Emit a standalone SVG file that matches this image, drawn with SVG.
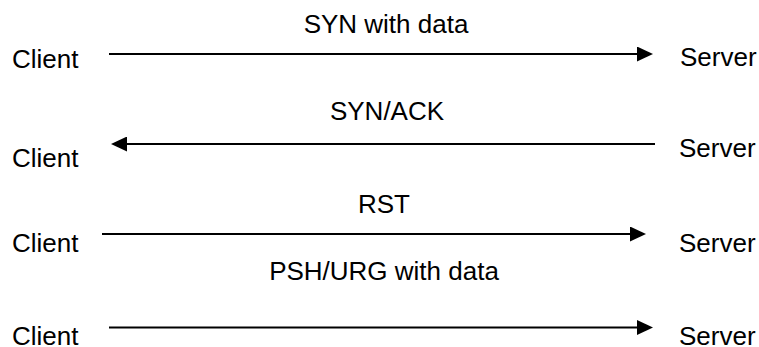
<svg xmlns="http://www.w3.org/2000/svg" width="759" height="347" viewBox="0 0 759 347">
<style>
text{font-family:"Liberation Sans",Arial,sans-serif;font-size:26px;fill:#000}
.lbl{text-anchor:middle}
.msg{stroke:#000;stroke-width:2;fill:none}
</style>
<defs>
<marker id="ah" viewBox="0 0 16 15" markerWidth="16" markerHeight="15" markerUnits="userSpaceOnUse" refX="8" refY="7.5" orient="auto">
<path d="M0,0 L16,7.5 L0,15 z" fill="#000"/>
</marker>
</defs>
<rect width="759" height="347" fill="#fff"/>
<g id="row1">
<text x="12" y="68">Client</text>
<text x="680" y="66">Server</text>
<text class="lbl" x="386" y="33">SYN with data</text>
</g>
<g id="row2">
<text x="12" y="167">Client</text>
<text x="679" y="157">Server</text>
<text class="lbl" x="387" y="120">SYN/ACK</text>
</g>
<g id="row3">
<text x="12" y="252">Client</text>
<text x="679" y="252">Server</text>
<text class="lbl" x="384" y="213">RST</text>
</g>
<g id="row4">
<text x="12" y="345">Client</text>
<text x="679" y="345">Server</text>
<text class="lbl" x="384" y="280">PSH/URG with data</text>
</g>
<g id="connectors">
<path class="msg" d="M109,54 L645,54" marker-end="url(#ah)"/>
<path class="msg" d="M655,144 L119,144" marker-end="url(#ah)"/>
<path class="msg" d="M102,234 L638,234" marker-end="url(#ah)"/>
<path class="msg" d="M109,327.5 L645,327.5" marker-end="url(#ah)"/>
</g>
</svg>
